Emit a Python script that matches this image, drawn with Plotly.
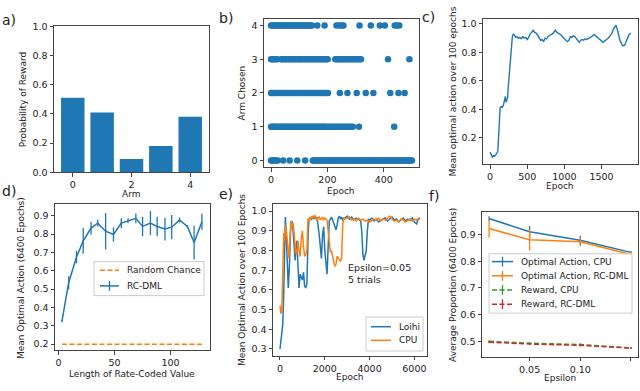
import plotly.graph_objects as go

W, H = 640, 391
BLUE, ORANGE, GREEN, RED = "#1f77b4", "#ff7f0e", "#2ca02c", "#d62728"
FONT = "DejaVu Sans"

# ---------------- data ----------------
# a) reward probabilities per arm
arms = [0, 1, 2, 3, 4]
reward_prob = [0.51, 0.41, 0.09, 0.18, 0.38]

# b) epochs at which each arm was chosen
arm0_epochs = [0, 4, 8, 13, 18, 24, 43, 66, 93, 121, 148, 152, 157, 161, 166, 170, 175, 180, 184, 189,
               193, 198, 203, 207, 212, 216, 221, 226, 230, 235, 239, 244, 249, 253, 258, 262, 267, 272,
               276, 281, 285, 290, 295, 299, 304, 308, 313, 318, 322, 327, 331, 336, 341, 345, 350, 354,
               359, 364, 368, 373, 377, 382, 387, 391, 396, 400, 405, 410, 414, 419, 423, 428, 433, 437,
               442, 446, 451, 456, 460, 465, 469, 474, 479, 483, 488, 492, 497, 500]
arm1_epochs = [0, 5, 9, 14, 19, 24, 29, 34, 39, 44, 49, 54, 59, 64, 69, 74, 79, 84, 89, 94, 99, 104,
               109, 114, 119, 124, 129, 134, 139, 144, 149, 154, 159, 164, 169, 174, 179, 184, 189, 194,
               199, 206, 212, 218, 224, 230, 236, 242, 248, 254, 260, 266, 272, 278, 284, 290, 312, 437]
arm2_epochs = [0, 4, 9, 14, 20, 26, 34, 40, 46, 52, 58, 64, 70, 76, 82, 88, 94, 100, 106, 112, 118,
               124, 130, 136, 142, 148, 154, 160, 166, 172, 178, 184, 190, 196, 202, 244, 271, 304, 336,
               363, 423, 452, 474]
arm3_epochs = [0, 5, 10, 16, 22, 36, 41, 46, 52, 58, 64, 70, 76, 82, 88, 95, 100, 106, 112, 118, 124,
               130, 136, 142, 148, 154, 160, 166, 172, 178, 184, 190, 196, 201, 228, 234, 240, 246, 252,
               258, 264, 270, 276, 282, 288, 294, 300, 306, 312, 319, 415, 491]
arm4_epochs = [0, 4, 8, 12, 17, 21, 26, 30, 35, 39, 44, 48, 53, 58, 62, 67, 71, 76, 80, 85, 90, 94, 99,
               103, 108, 113, 117, 122, 126, 131, 136, 140, 145, 164, 190, 232, 242, 250, 257, 314, 354,
               386, 404, 439, 447, 455]

# c) mean optimal action over 100 epochs
c_epoch = [0, 15, 30, 45, 60, 75, 90, 105, 115, 125, 135, 150, 165, 180, 195, 205, 215, 225, 235, 245,
           260, 275, 290, 300, 315, 330, 345, 360, 380, 400, 420, 440, 460, 480, 500, 520, 540, 560, 580,
           600, 620, 640, 660, 680, 700, 720, 740, 760, 780, 800, 820, 840, 860, 880, 900, 920, 940, 960,
           980, 1000, 1020, 1040, 1060, 1080, 1100, 1120, 1140, 1160, 1180, 1200, 1220, 1240, 1260, 1280,
           1300, 1320, 1340, 1360, 1380, 1400, 1420, 1440, 1460, 1480, 1500, 1520, 1540, 1560, 1580, 1600,
           1620, 1640, 1660, 1680, 1695, 1710, 1730, 1750, 1770, 1790, 1810, 1830, 1850, 1870, 1890]
c_value = [0.10, 0.085, 0.065, 0.075, 0.07, 0.08, 0.09, 0.11, 0.20, 0.33, 0.41, 0.42, 0.415, 0.43, 0.47,
           0.49, 0.45, 0.47, 0.48, 0.56, 0.66, 0.78, 0.87, 0.91, 0.93, 0.92, 0.905, 0.91, 0.90, 0.905,
           0.895, 0.91, 0.90, 0.905, 0.89, 0.905, 0.93, 0.94, 0.955, 0.94, 0.935, 0.92, 0.905, 0.885,
           0.89, 0.875, 0.90, 0.895, 0.91, 0.92, 0.925, 0.93, 0.945, 0.955, 0.94, 0.935, 0.925, 0.92,
           0.905, 0.895, 0.88, 0.875, 0.885, 0.91, 0.905, 0.915, 0.91, 0.895, 0.885, 0.87, 0.885, 0.89,
           0.885, 0.895, 0.89, 0.895, 0.905, 0.91, 0.915, 0.925, 0.915, 0.905, 0.895, 0.885, 0.875, 0.87,
           0.88, 0.885, 0.895, 0.905, 0.92, 0.935, 0.965, 0.985, 0.99, 0.965, 0.92, 0.88, 0.86, 0.845,
           0.85, 0.875, 0.895, 0.925, 0.935]

# d) mean optimal action vs length of rate-coded value
d_length = [3, 9, 16, 22, 29, 35, 42, 49, 56, 62, 69, 75, 82, 88, 95, 101, 108, 115, 121, 128]
d_mean = [0.324, 0.535, 0.675, 0.763, 0.833, 0.86, 0.816, 0.798, 0.86, 0.874, 0.886, 0.842, 0.86,
          0.842, 0.828, 0.838, 0.877, 0.842, 0.754, 0.868]
d_err = [0.005, 0.035, 0.035, 0.07, 0.035, 0.018, 0.1, 0.04, 0.027, 0.013, 0.027, 0.053, 0.066, 0.053,
         0.062, 0.066, 0.014, 0.008, 0.092, 0.044]
d_chance_x = [3, 128]
d_chance_y = [0.2, 0.2]

# e) Loihi vs CPU
e_loihi_x = [0, 60, 120, 160, 200, 240, 280, 320, 370, 420, 470, 520, 560, 600, 640, 680, 720, 760, 800,
             850, 900, 950, 1000, 1050, 1100, 1150, 1200, 1260, 1300, 1350, 1400, 1450, 1500, 1550, 1600,
             1650, 1700, 1750, 1800, 1850, 1900, 1950, 2000, 2050, 2100, 2150, 2200, 2250, 2300, 2350,
             2400, 2450, 2500, 2550, 2600, 2650, 2700, 2750, 2800, 2900, 3000, 3100, 3200, 3300, 3400,
             3500, 3600, 3650, 3700, 3750, 3800, 3850, 3900, 3950, 4000, 4100, 4200, 4300, 4400, 4500,
             4600, 4700, 4800, 4900, 5000, 5100, 5200, 5300, 5400, 5500, 5600, 5700, 5800, 5900, 6000,
             6100, 6150, 6200, 6250]
e_loihi_y = [0.30, 0.36, 0.42, 0.55, 0.80, 0.97, 0.88, 0.75, 0.61, 0.72, 0.90, 0.95, 0.94, 0.87, 0.80,
             0.75, 0.83, 0.85, 0.73, 0.61, 0.68, 0.66, 0.65, 0.69, 0.62, 0.61, 0.63, 0.90, 0.96, 0.97,
             0.955, 0.975, 0.96, 0.97, 0.965, 0.97, 0.93, 0.88, 0.82, 0.76, 0.88, 0.92, 0.80, 0.72, 0.68,
             0.82, 0.95, 0.96, 0.97, 0.955, 0.935, 0.92, 0.905, 0.93, 0.965, 0.975, 0.96, 0.97, 0.955,
             0.965, 0.975, 0.96, 0.97, 0.955, 0.965, 0.96, 0.95, 0.90, 0.78, 0.75, 0.77, 0.80, 0.90, 0.96,
             0.955, 0.965, 0.95, 0.96, 0.945, 0.955, 0.96, 0.965, 0.95, 0.96, 0.97, 0.955, 0.96, 0.945,
             0.955, 0.965, 0.95, 0.96, 0.955, 0.965, 0.945, 0.935, 0.955, 0.96, 0.965]
e_cpu_x = [0, 40, 80, 120, 170, 210, 250, 300, 350, 400, 440, 490, 540, 580, 620, 660, 700, 750, 800,
           850, 900, 950, 1000, 1050, 1100, 1150, 1200, 1250, 1300, 1350, 1400, 1450, 1500, 1550, 1600,
           1650, 1700, 1750, 1800, 1850, 1900, 1950, 2000, 2050, 2100, 2150, 2200, 2250, 2300, 2350, 2400,
           2450, 2500, 2550, 2600, 2650, 2700, 2750, 2800, 2850, 2900, 3000, 3100, 3200, 3300, 3400, 3500,
           3600, 3700, 3800, 3900, 4000, 4100, 4200, 4300, 4400, 4500, 4600, 4700, 4800, 4900, 5000,
           5100, 5200, 5300, 5400, 5500, 5600, 5700, 5800, 5900, 6000, 6100, 6200, 6250]
e_cpu_y = [0.52, 0.48, 0.50, 0.65, 0.89, 0.85, 0.93, 0.88, 0.80, 0.76, 0.85, 0.95, 0.92, 0.94, 0.90,
           0.84, 0.79, 0.78, 0.85, 0.80, 0.77, 0.86, 0.90, 0.82, 0.77, 0.78, 0.80, 0.96, 0.955, 0.97,
           0.96, 0.975, 0.965, 0.98, 0.96, 0.95, 0.965, 0.97, 0.955, 0.96, 0.97, 0.955, 0.965, 0.96,
           0.955, 0.90, 0.82, 0.79, 0.80, 0.76, 0.74, 0.72, 0.73, 0.77, 0.76, 0.75, 0.745, 0.76, 0.93,
           0.97, 0.96, 0.965, 0.97, 0.955, 0.96, 0.95, 0.965, 0.955, 0.96, 0.95, 0.955, 0.945, 0.955,
           0.96, 0.955, 0.965, 0.95, 0.96, 0.955, 0.965, 0.975, 0.96, 0.95, 0.955, 0.945, 0.96, 0.955,
           0.945, 0.955, 0.96, 0.95, 0.96, 0.955, 0.965, 0.96]

# f) average proportion vs epsilon
epsilon = [0.01, 0.05, 0.10, 0.15]
opt_cpu = [0.96, 0.91, 0.878, 0.833]
opt_cpu_err = [0.008, 0.022, 0.017, 0.005]
opt_rc = [0.922, 0.88, 0.873, 0.825]
opt_rc_err = [0.033, 0.04, 0.017, 0.01]
rew_cpu = [0.50, 0.493, 0.488, 0.475]
rew_cpu_err = [0.004, 0.004, 0.005, 0.004]
rew_rc = [0.497, 0.49, 0.485, 0.475]
rew_rc_err = [0.004, 0.003, 0.004, 0.004]

# ---------------- layout helpers ----------------
def px(x):
    return x / W

def py(y):
    return 1 - y / H

boxes = {  # left, top, right, bottom in pixels
    1: (54, 21, 209, 171),
    2: (264, 13, 419, 166),
    3: (483, 13, 638, 163),
    4: (55, 204, 210, 354),
    5: (273, 204, 427, 360),
    6: (482, 212, 638, 361),
}
DASH = "5px,2.5px"

fig = go.Figure()

def ax(i):
    return ("x" if i == 1 else f"x{i}"), ("y" if i == 1 else f"y{i}")

# a
xa, ya = ax(1)
fig.add_trace(go.Bar(x=arms, y=reward_prob, marker_color=BLUE, width=0.8, xaxis=xa, yaxis=ya,
                     marker_line_width=0))
# b
xa, ya = ax(2)
for arm, ep in zip(arms, [arm0_epochs, arm1_epochs, arm2_epochs, arm3_epochs, arm4_epochs]):
    fig.add_trace(go.Scatter(x=ep, y=[arm] * len(ep), mode="markers",
                             marker=dict(color=BLUE, size=6.5, line_width=0),
                             xaxis=xa, yaxis=ya))
# c
xa, ya = ax(3)
fig.add_trace(go.Scatter(x=c_epoch, y=c_value, mode="lines", line=dict(color=BLUE, width=1.4),
                         xaxis=xa, yaxis=ya))
# d
xa, ya = ax(4)
fig.add_trace(go.Scatter(x=d_chance_x, y=d_chance_y, mode="lines", name="Random Chance",
                         line=dict(color=ORANGE, width=1.5, dash=DASH), xaxis=xa, yaxis=ya))
fig.add_trace(go.Scatter(x=d_length, y=d_mean, mode="lines", name="RC-DML",
                         line=dict(color=BLUE, width=1.5),
                         error_y=dict(type="data", array=d_err, color=BLUE, thickness=1.3, width=0),
                         xaxis=xa, yaxis=ya))
# e
xa, ya = ax(5)
fig.add_trace(go.Scatter(x=e_loihi_x, y=e_loihi_y, mode="lines", name="Loihi",
                         line=dict(color=BLUE, width=1.5), xaxis=xa, yaxis=ya))
fig.add_trace(go.Scatter(x=e_cpu_x, y=e_cpu_y, mode="lines", name="CPU",
                         line=dict(color=ORANGE, width=1.5), xaxis=xa, yaxis=ya))
# f
xa, ya = ax(6)
f_series = [
    ("Optimal Action, CPU", opt_cpu, opt_cpu_err, BLUE, "solid"),
    ("Optimal Action, RC-DML", opt_rc, opt_rc_err, ORANGE, "solid"),
    ("Reward, CPU", rew_cpu, rew_cpu_err, GREEN, DASH),
    ("Reward, RC-DML", rew_rc, rew_rc_err, RED, DASH),
]
for name, yv, err, col, dash in f_series:
    fig.add_trace(go.Scatter(x=epsilon, y=yv, mode="lines", name=name,
                             line=dict(color=col, width=1.5, dash=dash),
                             error_y=dict(type="data", array=err, color=col, thickness=1.3, width=0),
                             xaxis=xa, yaxis=ya))

axcfg = dict(showline=True, mirror=True, linecolor="#444", linewidth=1, ticks="outside", ticklen=3.5,
             tickwidth=1, tickcolor="#444", showgrid=False, zeroline=False,
             tickfont=dict(family=FONT, size=9.5, color="#222"))

xspecs = {
    1: dict(range=[-0.64, 4.64], tickvals=[0, 2, 4]),
    2: dict(range=[-25, 525], tickvals=[0, 200, 400]),
    3: dict(range=[-95, 1990], tickvals=[0, 500, 1000, 1500]),
    4: dict(range=[-3.2, 135.2], tickvals=[0, 50, 100]),
    5: dict(range=[-312, 6562], tickvals=[0, 2000, 4000, 6000]),
    6: dict(range=[0.003, 0.157], tickvals=[0.05, 0.10, 0.15], tickformat=".2f"),
}
yspecs = {
    1: dict(range=[0, 1.0], tickvals=[0, 0.2, 0.4, 0.6, 0.8, 1.0], tickformat=".1f"),
    2: dict(range=[-0.2, 4.2], tickvals=[0, 1, 2, 3, 4]),
    3: dict(range=[0.0135, 1.0365], tickvals=[0.2, 0.4, 0.6, 0.8, 1.0], tickformat=".1f"),
    4: dict(range=[0.168, 0.963], tickvals=[0.2, 0.3, 0.4, 0.5, 0.6, 0.7, 0.8, 0.9], tickformat=".1f"),
    5: dict(range=[0.265, 1.035], tickvals=[0.3, 0.4, 0.5, 0.6, 0.7, 0.8, 0.9, 1.0], tickformat=".1f"),
    6: dict(range=[0.442, 0.984], tickvals=[0.5, 0.6, 0.7, 0.8, 0.9], tickformat=".1f"),
}

layout = {}
for i, (l, t, r, b) in boxes.items():
    xname = "xaxis" if i == 1 else f"xaxis{i}"
    yname = "yaxis" if i == 1 else f"yaxis{i}"
    yref = "y" if i == 1 else f"y{i}"
    xref = "x" if i == 1 else f"x{i}"
    layout[xname] = dict(domain=[px(l), px(r)], anchor=yref, **axcfg, **xspecs[i])
    layout[yname] = dict(domain=[py(b), py(t)], anchor=xref, **axcfg, **yspecs[i])

fig.update_layout(**layout)

ann = []
shapes = []

def text(x, y, s, size=9, angle=0, xanchor="center", yanchor="middle", align="center"):
    ann.append(dict(x=px(x), y=py(y), xref="paper", yref="paper", text=s, showarrow=False,
                    textangle=angle, xanchor=xanchor, yanchor=yanchor, align=align,
                    font=dict(family=FONT, size=size, color="#222")))

# axis titles
text(23, 96, "Probability of Reward", 9, -90)
text(131, 193, "Arm", 9)
text(242, 90, "Arm Chosen", 9, -90)
text(341, 190, "Epoch", 9)
text(453, 88, "Mean optimal action over 100 epochs", 9, -90)
text(560, 185, "Epoch", 9)
text(21, 280, "Mean Optimal Action (6400 Epochs)", 9, -90)
text(132, 379, "Length of Rate-Coded Value", 9)
text(242, 282, "Mean Optimal Action over 100 Epochs", 9, -90)
text(350, 382, "Epoch", 9)
text(453, 287, "Average Proportion (6400 Epochs)", 9, -90)
text(560, 383, "Epsilon", 9)
# panel labels
for lab, x, y in [("a)", 9, 14), ("b)", 226, 12), ("c)", 428, 11),
                  ("d)", 9, 190), ("e)", 226, 193), ("f)", 434, 196)]:
    text(x, y, lab, 14)
# annotation in e
text(346, 275, "Epsilon=0.05<br>5 trials", 9.5, xanchor="left", align="left")

# ---- legends (drawn as boxes + sample lines + labels) ----
def legend_box(l, t, r, b):
    shapes.append(dict(type="rect", xref="paper", yref="paper", x0=px(l), x1=px(r), y0=py(b), y1=py(t),
                       line=dict(color="#cccccc", width=1), fillcolor="rgba(255,255,255,0.85)",
                       layer="above"))

def legend_entry(x0, x1, y, color, dash, label, err=False):
    shapes.append(dict(type="line", xref="paper", yref="paper", x0=px(x0), x1=px(x1), y0=py(y), y1=py(y),
                       line=dict(color=color, width=1.5, dash=dash), layer="above"))
    if err:
        xm = (x0 + x1) / 2
        shapes.append(dict(type="line", xref="paper", yref="paper", x0=px(xm), x1=px(xm),
                           y0=py(y - 5), y1=py(y + 5), line=dict(color=color, width=1.3), layer="above"))
    text(x1 + 6, y, label, 9, xanchor="left")

legend_box(94, 263, 204, 298)
legend_entry(100, 119, 272, ORANGE, DASH, "Random Chance")
legend_entry(100, 119, 288, BLUE, "solid", "RC-DML", err=True)

legend_box(366, 320, 423, 355)
legend_entry(371, 391, 330, BLUE, "solid", "Loihi")
legend_entry(371, 391, 344, ORANGE, "solid", "CPU")

legend_box(489, 255, 632, 316)
for k, (name, yv, err, col, dash) in enumerate(f_series):
    legend_entry(492, 513, 263 + 14.6 * k, col, dash, name, err=True)

fig.update_layout(
    width=W, height=H, margin=dict(l=0, r=0, t=0, b=0),
    paper_bgcolor="white", plot_bgcolor="white",
    annotations=ann, shapes=shapes, showlegend=False,
)

fig.write_html("out.html", config={"displayModeBar": False},
               post_script="document.body.style.margin='0';document.body.style.overflow='hidden';")
